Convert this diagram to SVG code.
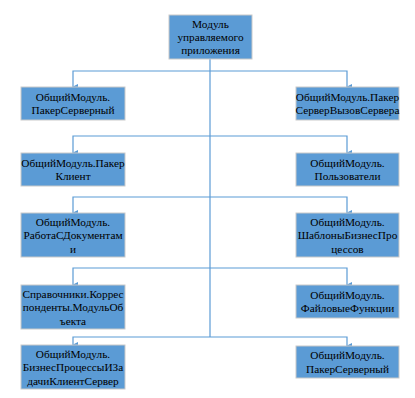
<svg xmlns="http://www.w3.org/2000/svg" width="415" height="398" viewBox="0 0 415 398">
<defs>
<style>
.box{fill:#5b9bd5;stroke:#c9c9c9;stroke-width:1}
.c{fill:none;stroke:#5b9bd5;stroke-width:1.2}
</style>
<marker id="ah" markerWidth="6" markerHeight="6" refX="3" refY="5" orient="auto-start-reverse" markerUnits="userSpaceOnUse" viewBox="0 0 6 6">
<path d="M0,0 L6,0 L3,6 Z" fill="#5b9bd5"/>
</marker>
</defs>
<rect width="415" height="398" fill="#fff"/>
<g id="connectors">
<path class="c" d="M210,59 V337"/>
<path class="c" d="M210,71 H73 V87" marker-end="url(#ah)"/>
<path class="c" d="M210,71 H347 V87" marker-end="url(#ah)"/>
<path class="c" d="M210,136 H73 V153" marker-end="url(#ah)"/>
<path class="c" d="M210,136 H347 V153" marker-end="url(#ah)"/>
<path class="c" d="M210,197 H73 V213" marker-end="url(#ah)"/>
<path class="c" d="M210,197 H347 V213" marker-end="url(#ah)"/>
<path class="c" d="M210,268 H73 V285" marker-end="url(#ah)"/>
<path class="c" d="M210,268 H347 V285" marker-end="url(#ah)"/>
<path class="c" d="M210,337 H73 V345" marker-end="url(#ah)"/>
<path class="c" d="M210,337 H347 V346" marker-end="url(#ah)"/>
</g>
<g font-family="Liberation Serif, Times New Roman, serif" font-size="11.3" fill="#000" text-anchor="middle">
<g id="root">
<rect class="box" x="169" y="15" width="83" height="44"/>
<text x="210.5" y="28">Модуль</text>
<text x="210.5" y="41">управляемого</text>
<text x="210.5" y="54">приложения</text>
</g>
<g id="l1">
<rect class="box" x="21" y="87" width="104" height="33"/>
<text x="73" y="100.5">ОбщийМодуль.</text>
<text x="73" y="114">ПакерСерверный</text>
</g>
<g id="r1">
<rect class="box" x="296" y="87" width="103" height="33"/>
<text x="347.5" y="100.5">ОбщийМодуль.Пакер</text>
<text x="347.5" y="114">СерверВызовСервера</text>
</g>
<g id="l2">
<rect class="box" x="21" y="153" width="104" height="33"/>
<text x="73" y="166.5">ОбщийМодуль.Пакер</text>
<text x="73" y="180">Клиент</text>
</g>
<g id="r2">
<rect class="box" x="296" y="153" width="103" height="33"/>
<text x="347.5" y="166.5">ОбщийМодуль.</text>
<text x="347.5" y="180">Пользователи</text>
</g>
<g id="l3">
<rect class="box" x="21" y="213" width="104" height="44"/>
<text x="73" y="225.5">ОбщийМодуль.</text>
<text x="73" y="239">РаботаСДокументам</text>
<text x="73" y="252.5">и</text>
</g>
<g id="r3">
<rect class="box" x="296" y="213" width="103" height="44"/>
<text x="347.5" y="225.5">ОбщийМодуль.</text>
<text x="347.5" y="239">ШаблоныБизнесПро</text>
<text x="347.5" y="252.5">цессов</text>
</g>
<g id="l4">
<rect class="box" x="21" y="285" width="104" height="44"/>
<text x="73" y="297.5">Справочники.Коррес</text>
<text x="73" y="311">понденты.МодульОб</text>
<text x="73" y="324.5">ъекта</text>
</g>
<g id="r4">
<rect class="box" x="296" y="285" width="103" height="33"/>
<text x="347.5" y="298.5">ОбщийМодуль.</text>
<text x="347.5" y="312">ФайловыеФункции</text>
</g>
<g id="l5">
<rect class="box" x="21" y="345" width="104" height="44"/>
<text x="73" y="357.5">ОбщийМодуль.</text>
<text x="73" y="371">БизнесПроцессыИЗа</text>
<text x="73" y="384.5">дачиКлиентСервер</text>
</g>
<g id="r5">
<rect class="box" x="296" y="346" width="103" height="32"/>
<text x="347.5" y="359">ОбщийМодуль.</text>
<text x="347.5" y="372.5">ПакерСерверный</text>
</g>
</g>
</svg>
